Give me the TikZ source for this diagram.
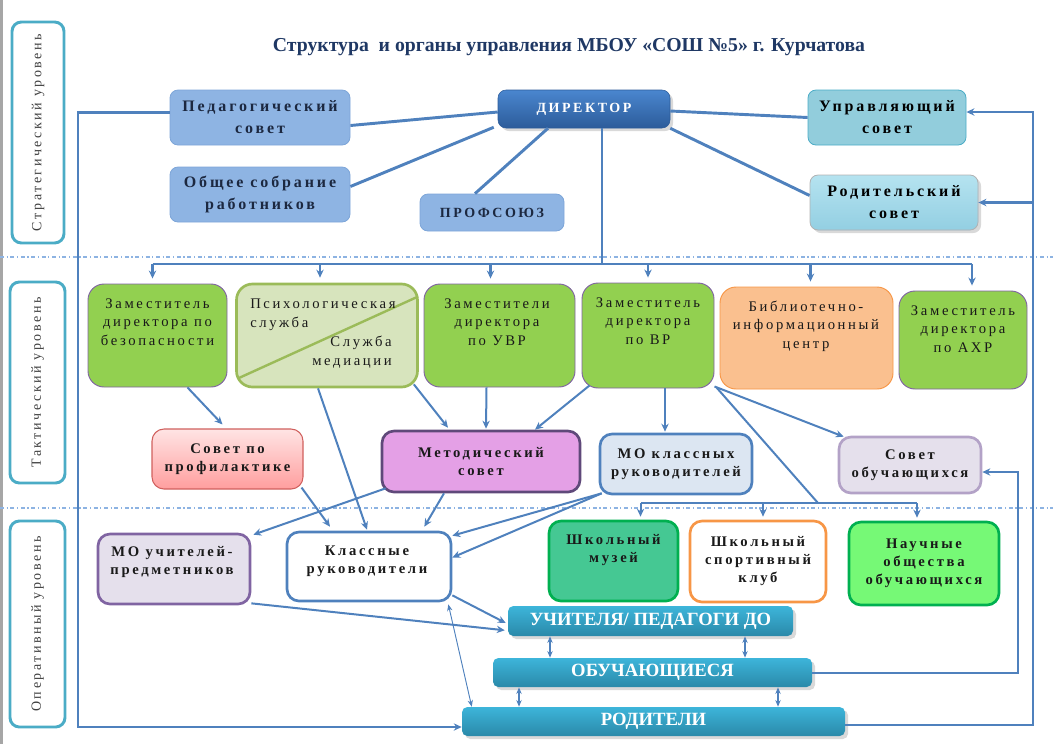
\documentclass[tikz,border=0pt]{standalone}
\usepackage{fontspec}
\setmainfont{Liberation Serif}
\newfontfamily\spc[LetterSpace=18]{Liberation Serif}
\usetikzlibrary{positioning,calc,arrows.meta,shadows}

\definecolor{lnkblue}{HTML}{4F81BD}
\definecolor{navy}{HTML}{1F3864}
\definecolor{txtdark}{HTML}{1C2840}
\definecolor{boxblue}{HTML}{8EB4E3}
\definecolor{boxblueb}{HTML}{7DA5D8}
\definecolor{uprfill}{HTML}{92CDDC}
\definecolor{aqua}{HTML}{4BACC6}
\definecolor{dirtop}{HTML}{4A86CF}
\definecolor{dirbot}{HTML}{2C5C9A}
\definecolor{rodtop}{HTML}{B5E3F0}
\definecolor{rodbot}{HTML}{93CFE2}
\definecolor{grn}{HTML}{92D050}
\definecolor{purp}{HTML}{8064A2}
\definecolor{olive}{HTML}{9BBB59}
\definecolor{psyfill}{HTML}{D7E4BD}
\definecolor{orng}{HTML}{F79646}
\definecolor{orngfill}{HTML}{FAC08F}
\definecolor{proftop}{HTML}{FFE4E4}
\definecolor{profbot}{HTML}{FF9E9E}
\definecolor{profdraw}{HTML}{D0605D}
\definecolor{metfill}{HTML}{E4A0E6}
\definecolor{metdraw}{HTML}{5F497A}
\definecolor{mokfill}{HTML}{DCE6F2}
\definecolor{lilac}{HTML}{E5E0EC}
\definecolor{lilacb}{HTML}{B3A2C7}
\definecolor{muzfill}{HTML}{45C893}
\definecolor{grnb}{HTML}{00B050}
\definecolor{naufill}{HTML}{76F976}
\definecolor{bartop}{HTML}{3DB5DA}
\definecolor{barbot}{HTML}{2A89A9}
\definecolor{sepblue}{HTML}{8DB3E2}

\tikzset{
  sz/.style 2 args={minimum width=#1*0.75pt, minimum height=#2*0.75pt},
  >={Stealth[length=6pt,width=5.5pt]},
  lvl/.style={draw=aqua, line width=2.2pt, rounded corners=7pt, rotate=90,
    fill=white, text=black!75, font=\spc\fontsize{10.5}{12}\selectfont},
  box/.style={rectangle, rounded corners=6pt, inner sep=0pt, align=center},
  topbox/.style={box, draw=boxblueb, line width=0.6pt, fill=boxblue, text=txtdark,
    font=\spc\bfseries\fontsize{12}{16.5}\selectfont},
  dirbox/.style={box, draw=dirbot, top color=dirtop, bottom color=dirbot, text=white,
    font=\spc\bfseries\fontsize{10.5}{12}\selectfont, drop shadow={opacity=0.3}},
  uprbox/.style={topbox, fill=uprfill, draw=aqua, text=black},
  rodbox/.style={topbox, top color=rodtop, bottom color=rodbot, draw=black!30,
    text=black, drop shadow={opacity=0.3}},
  zam/.style={box, rounded corners=12pt, fill=grn, draw=purp, line width=0.7pt},
  psybox/.style={zam, fill=psyfill, draw=olive, line width=2pt},
  bibbox/.style={zam, fill=orngfill, draw=orng},
  ztxt/.style={align=center, inner sep=0pt, text=black!90,
    font=\spc\fontsize{11}{14}\selectfont},
  midbox/.style={box, rounded corners=9pt, line width=2pt, text=black!90,
    font=\spc\bfseries\fontsize{11}{13.5}\selectfont},
  mtxt/.style={align=center, inner sep=0pt, text=black!90,
    font=\spc\bfseries\fontsize{11}{13.5}\selectfont},
  bar/.style={box, rounded corners=4pt, top color=bartop, bottom color=barbot,
    text=white, font=\bfseries\fontsize{14}{16}\selectfont, drop shadow={opacity=0.3}},
  lnkT/.style={draw=lnkblue, line width=2.2pt},
  lnk/.style={draw=lnkblue, line width=1.5pt},
  dbl/.style={draw=lnkblue, line width=1pt, {Stealth[length=5pt,width=4pt]}-{Stealth[length=5pt,width=4pt]}},
  sep/.style={draw=sepblue, line width=0.8pt, dash dot}
}

\begin{document}
\begin{tikzpicture}[x=0.75pt,y=-0.75pt]
\useasboundingbox (0,0) rectangle (1053,744);
\fill[black!35] (0,0) rectangle (3,744);

% Уровни
\node[lvl, sz={221}{52}] (lvlS) at (38,132.5) {Стратегический уровень};
\node[lvl, sz={201}{55}] (lvlT) at (37.5,382.5) {Тактический уровень};
\node[lvl, sz={206}{55}] (lvlO) at (37.5,624) {Оперативный уровень};

\draw[sep] (0,257) -- (1053,257);
\draw[sep] (0,508) -- (1053,508);

\node[text=navy, font=\bfseries\fontsize{14.8}{17}\selectfont] (title) at (569,47)
  {Структура\ \ и органы управления МБОУ «СОШ №5» г. Курчатова};

% Стратегический уровень
\node[topbox, sz={180}{55}] (ped) at (260,117.5) {Педагогический\\совет};
\node[dirbox, sz={172}{38}] (dir) at (584,109) {ДИРЕКТОР};
\node[uprbox, sz={158}{55}] (upr) at (887,117.5) {Управляющий\\совет};
\node[topbox, sz={180}{55}] (obsh) at (260,194.5) {Общее собрание\\работников};
\node[topbox, sz={144}{37}, font=\spc\bfseries\fontsize{10.5}{12}\selectfont] (prof) at (492,212.5) {ПРОФСОЮЗ};
\node[rodbox, sz={168}{55}] (rod) at (894,202.5) {Родительский\\совет};

% Тактический уровень
\node[zam, sz={139}{103}] (zbez) at (157.5,335.5) {};
\node[psybox, sz={181}{103}] (psy) at (327,335.5) {};
\node[zam, sz={151}{103}] (zuvr) at (499.5,335.5) {};
\node[zam, sz={132}{105}] (zvr) at (648,335.5) {};
\node[bibbox, sz={173}{102}] (bib) at (806.5,338) {};
\node[zam, sz={128}{98}] (zahr) at (963,340) {};
\draw[olive, line width=1.8pt] ($(psy.south west)+(3,-10)$) -- ($(psy.north east)+(-1,14)$);

\node[ztxt] (zbez-t) at (157.5,322) {Заместитель\\директора по\\безопасности};
\node[ztxt, anchor=west, align=left] (psy-t) at (250,315) {Психологическая\\служба};
\node[ztxt, anchor=east, align=right] (med-t) at (392,352) {Служба\\медиации};
\node[ztxt] (zuvr-t) at (497,322) {Заместители\\директора\\по УВР};
\node[ztxt] (zvr-t) at (648,321) {Заместитель\\директора\\по ВР};
\node[ztxt] (bib-t) at (806,326) {Библиотечно-\\информационный\\центр};
\node[ztxt] (zahr-t) at (963,329) {Заместитель\\директора\\по АХР};

\node[midbox, sz={151}{60}, top color=proftop, bottom color=profbot, draw=profdraw, line width=0.8pt] (prof2) at (227.5,459) {Совет по\\профилактике};
\node[midbox, sz={198}{61}, fill=metfill, draw=metdraw] (met) at (481,461.5) {Методический\\совет};
\node[midbox, sz={152}{60}, fill=mokfill, draw=lnkblue] (mok) at (676,464) {МО классных\\руководителей};
\node[midbox, sz={142}{56}, fill=lilac, draw=lilacb] (sob) at (910,465) {Совет\\обучающихся};

% Оперативный уровень
\node[midbox, sz={152}{70}, fill=lilac, draw=purp] (mou) at (174,569) {};
\node[mtxt] (mou-t) at (172,562) {МО учителей-\\предметников};
\node[midbox, sz={164}{69}, fill=white, draw=lnkblue] (kr) at (369,566.5) {};
\node[mtxt] (kr-t) at (367,561) {Классные\\руководители};
\node[midbox, sz={129}{80}, fill=muzfill, draw=grnb] (muz) at (613.5,561) {};
\node[mtxt] (muz-t) at (613.5,550) {Школьный\\музей};
\node[midbox, sz={136}{81}, fill=white, draw=orng] (spk) at (758,561.5) {Школьный\\спортивный\\клуб};
\node[midbox, sz={150}{83}, fill=naufill, draw=grnb] (nau) at (924,563.5) {Научные\\общества\\обучающихся};

\node[bar, sz={285}{30}] (uch) at (650.5,621) {УЧИТЕЛЯ/ ПЕДАГОГИ ДО};
\node[bar, sz={319}{29}] (obu) at (652.5,672.5) {ОБУЧАЮЩИЕСЯ};
\node[bar, sz={383}{29}] (rodi) at (653.5,721.5) {РОДИТЕЛИ};

% Связи директора
\draw[lnkT] ($(ped.east)+(0,8)$) -- ($(dir.west)+(0,3)$);
\draw[lnkT] ($(obsh.east)+(0,-8)$) -- ($(dir.south west)+(-4,-1)$);
\draw[lnkT] ($(prof.north)+(-17,0)$) -- ($(dir.south)+(-36,0)$);
\draw[lnkT] ($(dir.east)+(0,2)$) -- (upr.west);
\draw[lnkT] (dir.south east) -- ($(rod.west)+(0,-7)$);

\coordinate (bus) at (602,264);
\draw[lnkT] ($(dir.south)+(18,0)$) -- (bus);
\draw[lnkT] ($(zbez.north |- bus)+(-5,0)$) -- ($(zahr.north |- bus)+(9,0)$);
\foreach \n/\dx in {zbez/-5,psy/-7,zuvr/-9,zvr/0,bib/4,zahr/9}
  \draw[lnkT,->] ($(\n.north |- bus)+(\dx,0)$) -- ($(\n.north)+(\dx,-5)$);

% Обратные связи
\coordinate (lcorner) at (78,727);
\draw[lnkT,->] ($(ped.west)+(0,-5)$) -| (lcorner) -- (lcorner -| rodi.west);
\coordinate (rcorner) at (1033,725);
\coordinate (rtop) at (1033,112);
\draw[lnkT,->] (rodi.east |- rcorner) -- (rcorner) -- (rtop) -- (rtop -| upr.east);
\draw[lnkT,->] (rtop |- rod.east) -- (rod.east);
\coordinate (sobin) at (1018,472);
\draw[lnk,->] (obu.east) -| (sobin) -- (sobin -| sob.east);

% Тактический -> оперативный
\draw[lnk,->] ($(zbez.south)+(30,0)$) -- ($(prof2.north)+(-5,-4)$);
\draw[lnk,->] ($(prof2.south east)+(-2,-2)$) -- ($(kr.north)+(-39,-4)$);
\draw[lnk,->] ($(psy.south)+(-9,0)$) -- ($(kr.north)+(-2,-1)$);
\draw[lnk,->] ($(psy.south east)+(-5,-4)$) -- ($(met.north)+(-33,-2)$);
\draw[lnk,->] ($(zuvr.south)+(-13,0)$) -- ($(met.north)+(5,-1)$);
\draw[lnk,->] ($(zvr.south west)+(8,-3)$) -- ($(met.north)+(54,0)$);
\draw[lnk,->] ($(zvr.south)+(17,0)$) -- ($(mok.north)+(-11,-1)$);
\draw[lnk,->] ($(zvr.south east)+(0,-2)$) -- ($(sob.north west)+(6,1)$);

\coordinate (brk) at (818,503);
\coordinate (bl) at (641,503);
\coordinate (br) at (917,503);
\draw[lnk] ($(zvr.south east)+(2,-1)$) -- (brk);
\draw[lnk] (bl) -- (br);
\foreach \n/\dx in {muz/27,spk/5,nau/-7}
  \draw[lnk,->] ($(\n.north |- bl)+(\dx,0)$) -- ($(\n.north)+(\dx,-3)$);

\draw[lnk,->] ($(met.south west)+(5,-5)$) -- ($(mou.north east)+(2,2)$);
\draw[lnk,->] ($(met.south)+(-37,0)$) -- ($(kr.north east)+(-28,-4)$);
\draw[lnk,->] ($(mok.south west)+(3,-2)$) -- ($(kr.north east)+(0,5)$);
\draw[lnk,->] ($(mok.south west)+(3,-2)$) -- ($(kr.east)+(0,-9)$);
\draw[lnk,->] ($(kr.south east)+(0,-7)$) -- ($(uch.west)+(-2,2)$);
\draw[lnk,->] ($(mou.south east)+(0,-2)$) -- ($(uch.south west)+(-3,-6)$);
\draw[dbl, line width=0.7pt] ($(kr.south east)+(-4,2)$) -- ($(rodi.north west)+(10,0)$);
\foreach \x in {550,745} \draw[dbl] (uch.south -| \x,0) -- (obu.north -| \x,0);
\foreach \x in {519,778} \draw[dbl] (obu.south -| \x,0) -- (rodi.north -| \x,0);
\end{tikzpicture}
\end{document}
